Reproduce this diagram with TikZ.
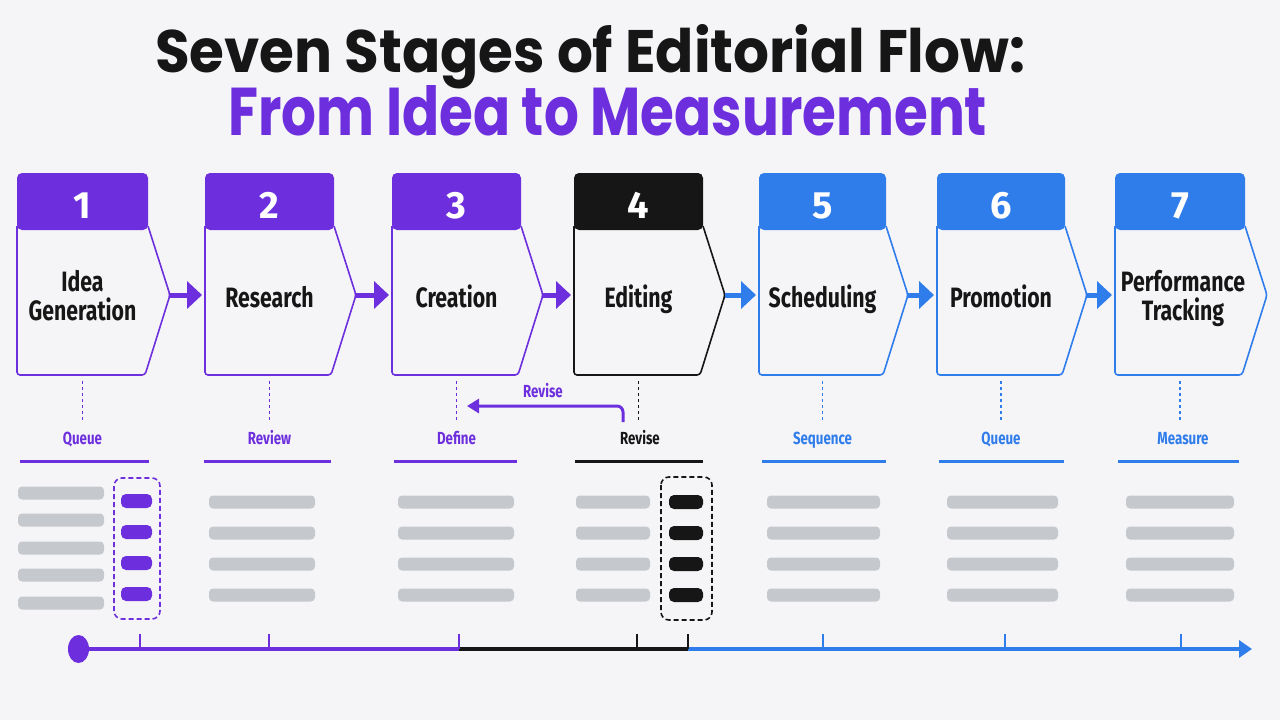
\documentclass[tikz,border=0pt]{standalone}
\usepackage{graphicx}
\usepackage{fontspec}
\setmainfont{Fira Sans}
\newfontfamily\titlefont{Poppins}
\newfontfamily\condfont[FakeStretch=0.76]{Fira Sans}
\usetikzlibrary{arrows.meta}
\definecolor{bg}{HTML}{F5F5F7}
\definecolor{pur}{HTML}{6D2FDE}
\definecolor{blu}{HTML}{2F7CEB}
\definecolor{blk}{HTML}{161616}
\definecolor{gbar}{HTML}{C5C8CD}
\tikzset{
  numtxt/.style={anchor=base, inner sep=0pt, text=white, font=\fontsize{38}{38}\selectfont\bfseries},
  lbl/.style={inner sep=0pt, text=blk, align=center, font=\condfont\fontsize{28}{29}\selectfont\bfseries},
  small/.style={anchor=base, inner sep=0pt, font=\condfont\fontsize{17.5}{18}\selectfont\bfseries},
  conn/.style={line width=5pt, draw=#1, -{Triangle[length=15pt,width=27pt]}, shorten >=3pt},
  dots/.style={line width=1.6pt, draw=#1, dash pattern=on 3pt off 3pt},
  uline/.style={line width=3pt, draw=#1},
  gb/.style={fill=gbar, rounded corners=4pt},
  tick/.style={line width=2pt, draw=#1},
  dbox/.style={line width=1.6pt, draw=#1, dash pattern=on 5pt off 3pt, rounded corners=8pt},
}
\newcommand\stagebox[5]{%
  \pgfmathsetmacro\sbcx{(#2+#3)/2}%
  \pgfmathsetmacro\sbrx{#3+22}%
  \pgfmathsetmacro\sbbx{#3-3}%
  \draw[draw=#4, line width=1.6pt, rounded corners=3pt] (#2,226) -- (#2,375) -- (\sbbx,375) -- (\sbrx,295) -- (#3,226);
  \fill[#4, rounded corners=5pt] (#2,173) rectangle (#3,230);
  \node[numtxt] (h#1) at (\sbcx,218) {#5};
  \coordinate (p#1) at (\sbrx,295);
  \coordinate (l#1) at (#2,295);
  \coordinate (d#1) at (\sbcx,381);
  \coordinate (e#1) at (\sbcx,422);
}
\newcommand\gbars[3]{% x1 x2 list of y centres
  \foreach \yy in {#3} {\fill[gb] (#1,\yy-6.5) rectangle (#2,\yy+6.5);}
}
\begin{document}
\begin{tikzpicture}[x=1pt,y=-1pt]
\fill[bg] (0,0) rectangle (1280,720);
\useasboundingbox (0,0) rectangle (1280,720);

% title
\node[anchor=base west, inner sep=0pt, text=blk] (t1) at (155,72)
  {\titlefont\bfseries\resizebox{870pt}{48pt}{Seven Stages of Editorial Flow:}};
\node[anchor=base west, inner sep=0pt, text=pur] (t2) at (228,135)
  {\titlefont\bfseries\resizebox{759pt}{50pt}{From Idea to Measurement}};

% stage boxes
\stagebox{1}{17}{148}{pur}{1}
\stagebox{2}{205}{334}{pur}{2}
\stagebox{3}{392}{521}{pur}{3}
\stagebox{4}{574}{703}{blk}{4}
\stagebox{5}{759}{886}{blu}{5}
\stagebox{6}{937}{1065}{blu}{6}
\stagebox{7}{1115}{1245}{blu}{7}

% labels
\node[lbl] (s1) at (82.5,296) {Idea\\Generation};
\node[lbl, anchor=base] (s2) at (269.5,307) {Research};
\node[lbl, anchor=base] (s3) at (456.5,307) {Creation};
\node[lbl, anchor=base] (s4) at (638.5,307) {Editing};
\node[lbl, anchor=base] (s5) at (822.5,307) {Scheduling};
\node[lbl, anchor=base] (s6) at (1001,307) {Promotion};
\node[lbl] (s7) at (1183,298) {Performance\\Tracking};

% connectors between boxes
\draw[conn=pur] (p1) -- (l2);
\draw[conn=pur] (p2) -- (l3);
\draw[conn=pur] (p3) -- (l4);
\draw[conn=blu] (p4) -- (l5);
\draw[conn=blu] (p5) -- (l6);
\draw[conn=blu] (p6) -- (l7);

% dotted drops
\draw[dots=pur] (d1) -- (e1);
\draw[dots=pur] (d2) -- (e2);
\draw[dots=pur] (d3) -- (e3);
\draw[dots=blk] (d4) -- (e4);
\draw[dots=blu] (d5) -- (e5);
\draw[dots=blu] (d6) -- (e6);
\draw[dots=blu] (d7) -- (e7);

% small labels
\node[small, text=pur] (q1) at (82.5,444) {Queue};
\node[small, text=pur] (q2) at (269.5,444) {Review};
\node[small, text=pur] (q3) at (456.5,444) {Define};
\node[small, text=blk] (q4) at (640,444) {Revise};
\node[small, text=blu] (q5) at (822.5,444) {Sequence};
\node[small, text=blu] (q6) at (1001,444) {Queue};
\node[small, text=blu] (q7) at (1183,444) {Measure};

% revise loop
\coordinate (rv0) at (623,422);
\coordinate (rv1) at (467,406);
\draw[pur, line width=3pt, rounded corners=6pt, -{Triangle[length=12pt,width=14pt]}] (rv0) |- (rv1);
\node[small, text=pur] (rvl) at (543,397) {Revise};

% underlines
\draw[uline=pur] (20,461) -- (149,461);
\draw[uline=pur] (204,461) -- (331,461);
\draw[uline=pur] (394,461) -- (517,461);
\draw[uline=blk] (575,461) -- (703,461);
\draw[uline=blu] (762,461) -- (886,461);
\draw[uline=blu] (939,461) -- (1064,461);
\draw[uline=blu] (1118,461) -- (1239,461);

% gray bars
\gbars{18}{104}{493,520,548,575,603}
\gbars{209}{315}{502,533,564,595}
\gbars{398}{514}{502,533,564,595}
\gbars{576}{650}{502,533,564,595}
\gbars{767}{880}{502,533,564,595}
\gbars{947}{1058}{502,533,564,595}
\gbars{1126}{1234}{502,533,564,595}

% highlighted bars
\foreach \yy in {501,532,563,594} {\fill[pur, rounded corners=5pt] (121,\yy-7) rectangle (152,\yy+7);}
\draw[dbox=pur] (114,478) rectangle (160,619);
\foreach \yy in {502,533,564,595} {\fill[blk, rounded corners=5pt] (669,\yy-7) rectangle (703,\yy+7);}
\draw[dbox=blk] (661,477) rectangle (712,620);

% timeline
\fill[pur] (78.5,649) ellipse [x radius=10.5pt, y radius=14pt];
\coordinate (tl0) at (78.5,649);
\coordinate (tl1) at (459,649);
\coordinate (tl2) at (688,649);
\coordinate (tl3) at (1252,649);
\draw[pur, line width=4pt] (tl0) -- (tl1);
\draw[blk, line width=4pt] (tl1) -- (tl2);
\draw[blu, line width=4pt, -{Triangle[length=13pt,width=17pt]}] (tl2) -- (tl3);
\foreach \xx in {140,269,459} {\draw[tick=pur] (\xx,634) -- (\xx,649);}
\foreach \xx in {637,688} {\draw[tick=blk] (\xx,634) -- (\xx,649);}
\foreach \xx in {823,1005,1181} {\draw[tick=blu] (\xx,634) -- (\xx,649);}
\end{tikzpicture}
\end{document}
